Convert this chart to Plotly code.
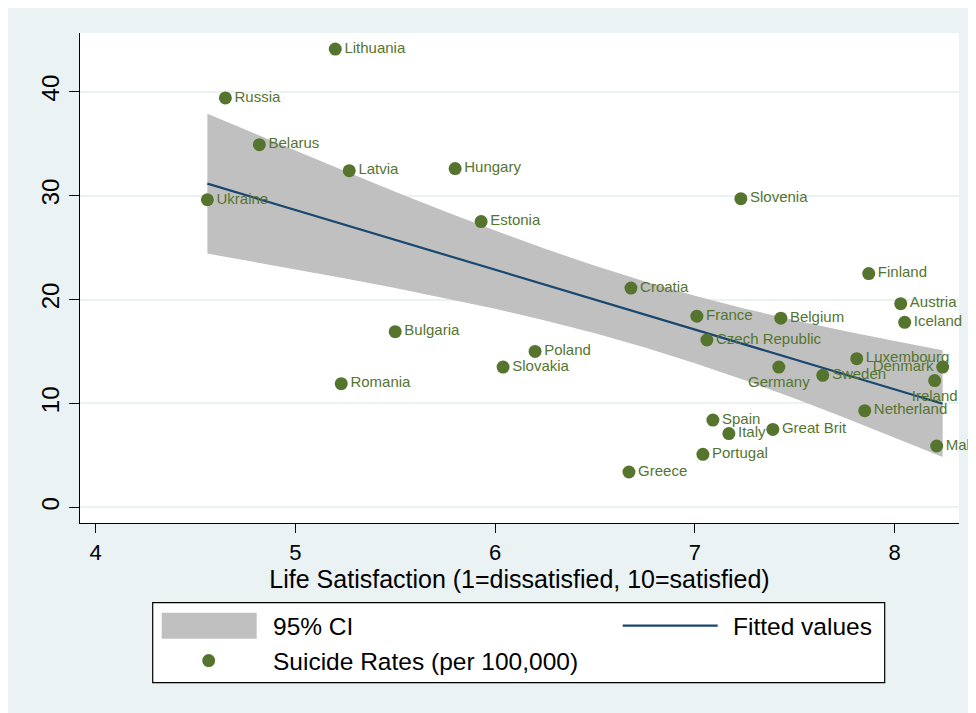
import plotly.graph_objects as go

# ---------------- data ----------------
countries = ["Lithuania", "Russia", "Belarus", "Latvia", "Hungary", "Ukraine",
             "Estonia", "Bulgaria", "Romania", "Slovenia", "Finland", "Croatia",
             "Austria", "France", "Belgium", "Iceland", "Czech Republic", "Poland",
             "Slovakia", "Luxembourg", "Germany", "Sweden", "Denmark", "Ireland",
             "Netherland", "Spain", "Italy", "Great Brit", "Malta", "Portugal", "Greece"]
life_satisfaction = [5.20, 4.65, 4.82, 5.27, 5.80, 4.56,
                     5.93, 5.50, 5.23, 7.23, 7.87, 6.68,
                     8.03, 7.01, 7.43, 8.05, 7.06, 6.20,
                     6.04, 7.81, 7.42, 7.64, 8.24, 8.20,
                     7.85, 7.09, 7.17, 7.39, 8.21, 7.04, 6.67]
suicide_rates = [44.1, 39.4, 34.9, 32.4, 32.6, 29.6,
                 27.5, 16.9, 11.9, 29.7, 22.5, 21.1,
                 19.6, 18.4, 18.2, 17.8, 16.1, 15.0,
                 13.5, 14.3, 13.5, 12.7, 13.5, 12.2,
                 9.3, 8.4, 7.1, 7.5, 5.9, 5.1, 3.4]
label_position = ["middle right"] * len(countries)
label_position[countries.index("Germany")] = "bottom center"
label_position[countries.index("Ireland")] = "bottom center"
label_position[countries.index("Denmark")] = "middle left"

fit_x = [4.56, 4.8, 5.0, 5.25, 5.5, 5.75, 6.0, 6.25, 6.5, 6.75,
         7.0, 7.25, 7.5, 7.75, 8.0, 8.24]
fitted_values = [31.15, 29.77, 28.62, 27.18, 25.74, 24.30, 22.87, 21.43, 19.99, 18.55,
                 17.11, 15.67, 14.23, 12.79, 11.36, 9.97]
ci_upper = [37.88, 35.93, 34.33, 32.34, 30.38, 28.47, 26.64, 24.88, 23.24, 21.73,
            20.36, 19.12, 18.00, 16.96, 16.00, 15.11]
ci_lower = [24.42, 23.61, 22.91, 22.02, 21.10, 20.13, 19.10, 17.98, 16.74, 15.37,
            13.86, 12.22, 10.46, 8.62, 6.72, 4.83]

x_ticks = [4, 5, 6, 7, 8]
y_ticks = [0, 10, 20, 30, 40]

x_title = "Life Satisfaction (1=dissatisfied, 10=satisfied)"
legend_labels = ["95% CI", "Fitted values", "Suicide Rates (per 100,000)"]

# ---------------- styles ----------------
FONT = "Liberation Sans, Arial, Helvetica, sans-serif"
GREEN = "#55752F"
NAVY = "#1A476F"
CI_GRAY = "#C0C0C0"
BG = "#EAF2F3"

# page offset of the figure (browser body margin)
OFF = 8
W, H = 976, 713
L = 80.3 - OFF
T = 33 - OFF
R = W - (959.3 - OFF)
B = H - (523.3 - OFF)
PW, PH = W - L - R, H - T - B


def px_x(px):
    """page pixel x -> paper coordinate"""
    return (px - OFF - L) / PW


def px_y(py):
    """page pixel y -> paper coordinate"""
    return (H - B - (py - OFF)) / PH


fig = go.Figure()

fig.add_trace(go.Scatter(
    x=fit_x + fit_x[::-1],
    y=ci_upper + ci_lower[::-1],
    fill="toself", fillcolor=CI_GRAY, mode="lines",
    line=dict(width=0, color=CI_GRAY),
    name=legend_labels[0], showlegend=False, hoverinfo="skip",
))
fig.add_trace(go.Scatter(
    x=fit_x, y=fitted_values, mode="lines",
    line=dict(color=NAVY, width=2.2),
    name=legend_labels[1], showlegend=False,
))
fig.add_trace(go.Scatter(
    x=life_satisfaction, y=suicide_rates, mode="markers+text",
    marker=dict(size=13, color=GREEN, line=dict(width=0)),
    text=countries, textposition=label_position,
    textfont=dict(family=FONT, size=15, color=GREEN),
    cliponaxis=False,
    name=legend_labels[2], showlegend=False,
))

shapes = [
    # legend box
    dict(type="rect", xref="paper", yref="paper",
         x0=px_x(153), x1=px_x(885), y0=px_y(683), y1=px_y(603),
         fillcolor="white", line=dict(color="black", width=1.2)),
    dict(type="rect", xref="paper", yref="paper",
         x0=px_x(162), x1=px_x(257), y0=px_y(639), y1=px_y(613),
         fillcolor=CI_GRAY, line=dict(width=0)),
    dict(type="line", xref="paper", yref="paper",
         x0=px_x(623), x1=px_x(718), y0=px_y(626), y1=px_y(626),
         line=dict(color=NAVY, width=2.2)),
    dict(type="circle", xref="paper", yref="paper",
         xsizemode="pixel", ysizemode="pixel",
         xanchor=px_x(209), yanchor=px_y(661),
         x0=-6.5, x1=6.5, y0=-6.5, y1=6.5,
         fillcolor=GREEN, line=dict(width=0)),
]

annotations = [
    dict(text=legend_labels[0], x=px_x(271), y=px_y(627), xref="paper", yref="paper",
         xanchor="left", yanchor="middle", showarrow=False,
         font=dict(family=FONT, size=24.5, color="black")),
    dict(text=legend_labels[1], x=px_x(731), y=px_y(627), xref="paper", yref="paper",
         xanchor="left", yanchor="middle", showarrow=False,
         font=dict(family=FONT, size=24.5, color="black")),
    dict(text=legend_labels[2], x=px_x(271), y=px_y(662), xref="paper", yref="paper",
         xanchor="left", yanchor="middle", showarrow=False,
         font=dict(family=FONT, size=24.5, color="black")),
]

fig.update_layout(
    width=W, height=H,
    margin=dict(l=L, r=R, t=T, b=B, autoexpand=False),
    paper_bgcolor=BG, plot_bgcolor="white",
    showlegend=False,
    font=dict(family=FONT, color="black"),
    shapes=shapes, annotations=annotations,
    xaxis=dict(
        range=[3.9224, 8.3218], tickvals=x_ticks, ticktext=[str(v) for v in x_ticks],
        showgrid=False, zeroline=False,
        showline=True, linecolor="black", linewidth=1.2,
        ticks="outside", ticklen=9, tickwidth=1.2, tickcolor="black",
        tickfont=dict(family=FONT, size=22, color="black"),
        title=dict(text=x_title, font=dict(family=FONT, size=25, color="black"), standoff=3),
        automargin=False,
    ),
    yaxis=dict(
        range=[-1.511, 45.65], tickvals=y_ticks, ticktext=[str(v) for v in y_ticks],
        showgrid=True, gridcolor=BG, gridwidth=2, zeroline=False,
        showline=True, linecolor="black", linewidth=1.2,
        ticks="outside", ticklen=10, tickwidth=1.2, tickcolor="black",
        tickangle=-90,
        tickfont=dict(family=FONT, size=24, color="black"),
        automargin=False,
    ),
)

fig.write_html("out.html")
